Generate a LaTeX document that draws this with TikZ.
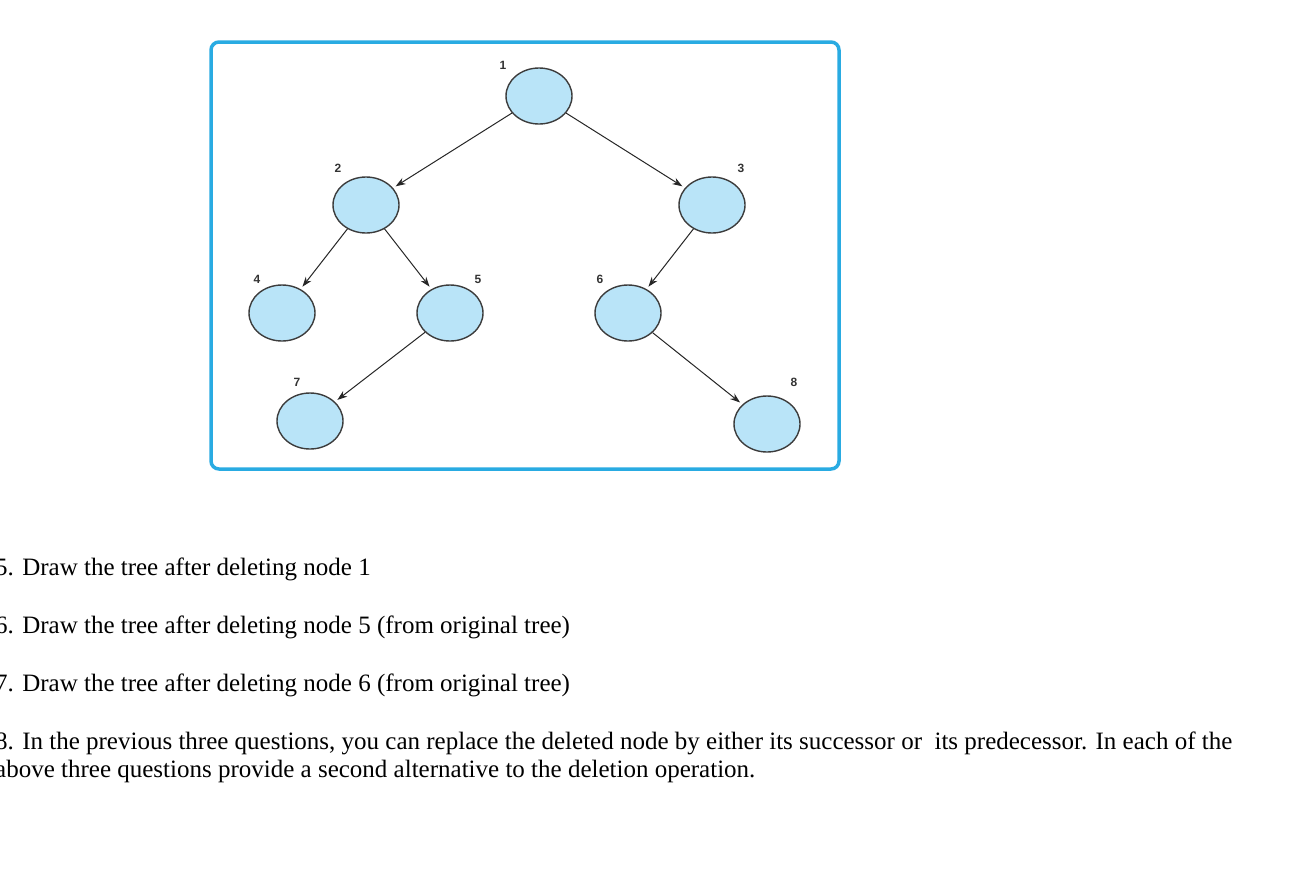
\documentclass[tikz,border=0pt]{standalone}
\usepackage{fontspec}
\setmainfont{Liberation Serif}
\newfontfamily\lsans{Liberation Sans}
\usetikzlibrary{shapes.geometric,arrows.meta}
\definecolor{frame}{RGB}{41,171,226}
\definecolor{nfill}{RGB}{185,228,248}
\definecolor{nedge}{RGB}{60,60,60}
\tikzset{tn/.style={ellipse,draw=nedge,line width=1.4pt,fill=nfill,minimum width=66pt,minimum height=56pt,inner sep=0pt},
lab/.style={font=\lsans\bfseries\fontsize{12}{12}\selectfont,text=black!80},
edge/.style={draw=black!85,line width=1pt,-{Stealth[length=10pt,width=7pt]},shorten >=3pt},
qt/.style={anchor=west,font=\fontsize{25}{28}\selectfont,inner sep=0pt}}
\begin{document}
\begin{tikzpicture}[x=1pt,y=-1pt]
\useasboundingbox (0,0) rectangle (1297,868);
\draw[frame,line width=3.5pt,rounded corners=8pt] (211,42) rectangle (839,469);
\node[tn] (n1) at (539,96) {};
\node[tn] (n2) at (366,205) {};
\node[tn] (n3) at (712,205) {};
\node[tn] (n4) at (282,313) {};
\node[tn] (n5) at (450,313) {};
\node[tn] (n6) at (628,313) {};
\node[tn] (n7) at (310,421) {};
\node[tn] (n8) at (767,424) {};
\node[lab] (l1) at (503,65) {1};
\node[lab] (l2) at (338,168) {2};
\node[lab] (l3) at (741,168) {3};
\node[lab] (l4) at (257,279) {4};
\node[lab] (l5) at (478,279) {5};
\node[lab] (l6) at (600,279) {6};
\node[lab] (l7) at (297,382) {7};
\node[lab] (l8) at (794,382) {8};
\draw[edge] (n1) -- (n2);
\draw[edge] (n1) -- (n3);
\draw[edge] (n2) -- (n4);
\draw[edge] (n2) -- (n5);
\draw[edge] (n3) -- (n6);
\draw[edge] (n5) -- (n7);
\draw[edge] (n6) -- (n8);
\node[qt] (q1) at (-5,569) {5. Draw the tree after deleting node 1};
\node[qt] (q2) at (-5,627) {6. Draw the tree after deleting node 5 (from original tree)};
\node[qt] (q3) at (-5,685) {7. Draw the tree after deleting node 6 (from original tree)};
\node[qt] (q4) at (-5,743) {8. In the previous three questions, you can replace the deleted node by either its successor or\ \ its predecessor. In each of the};
\node[qt] (q5) at (-5,771) {above three questions provide a second alternative to the deletion operation.};
\end{tikzpicture}
\end{document}
